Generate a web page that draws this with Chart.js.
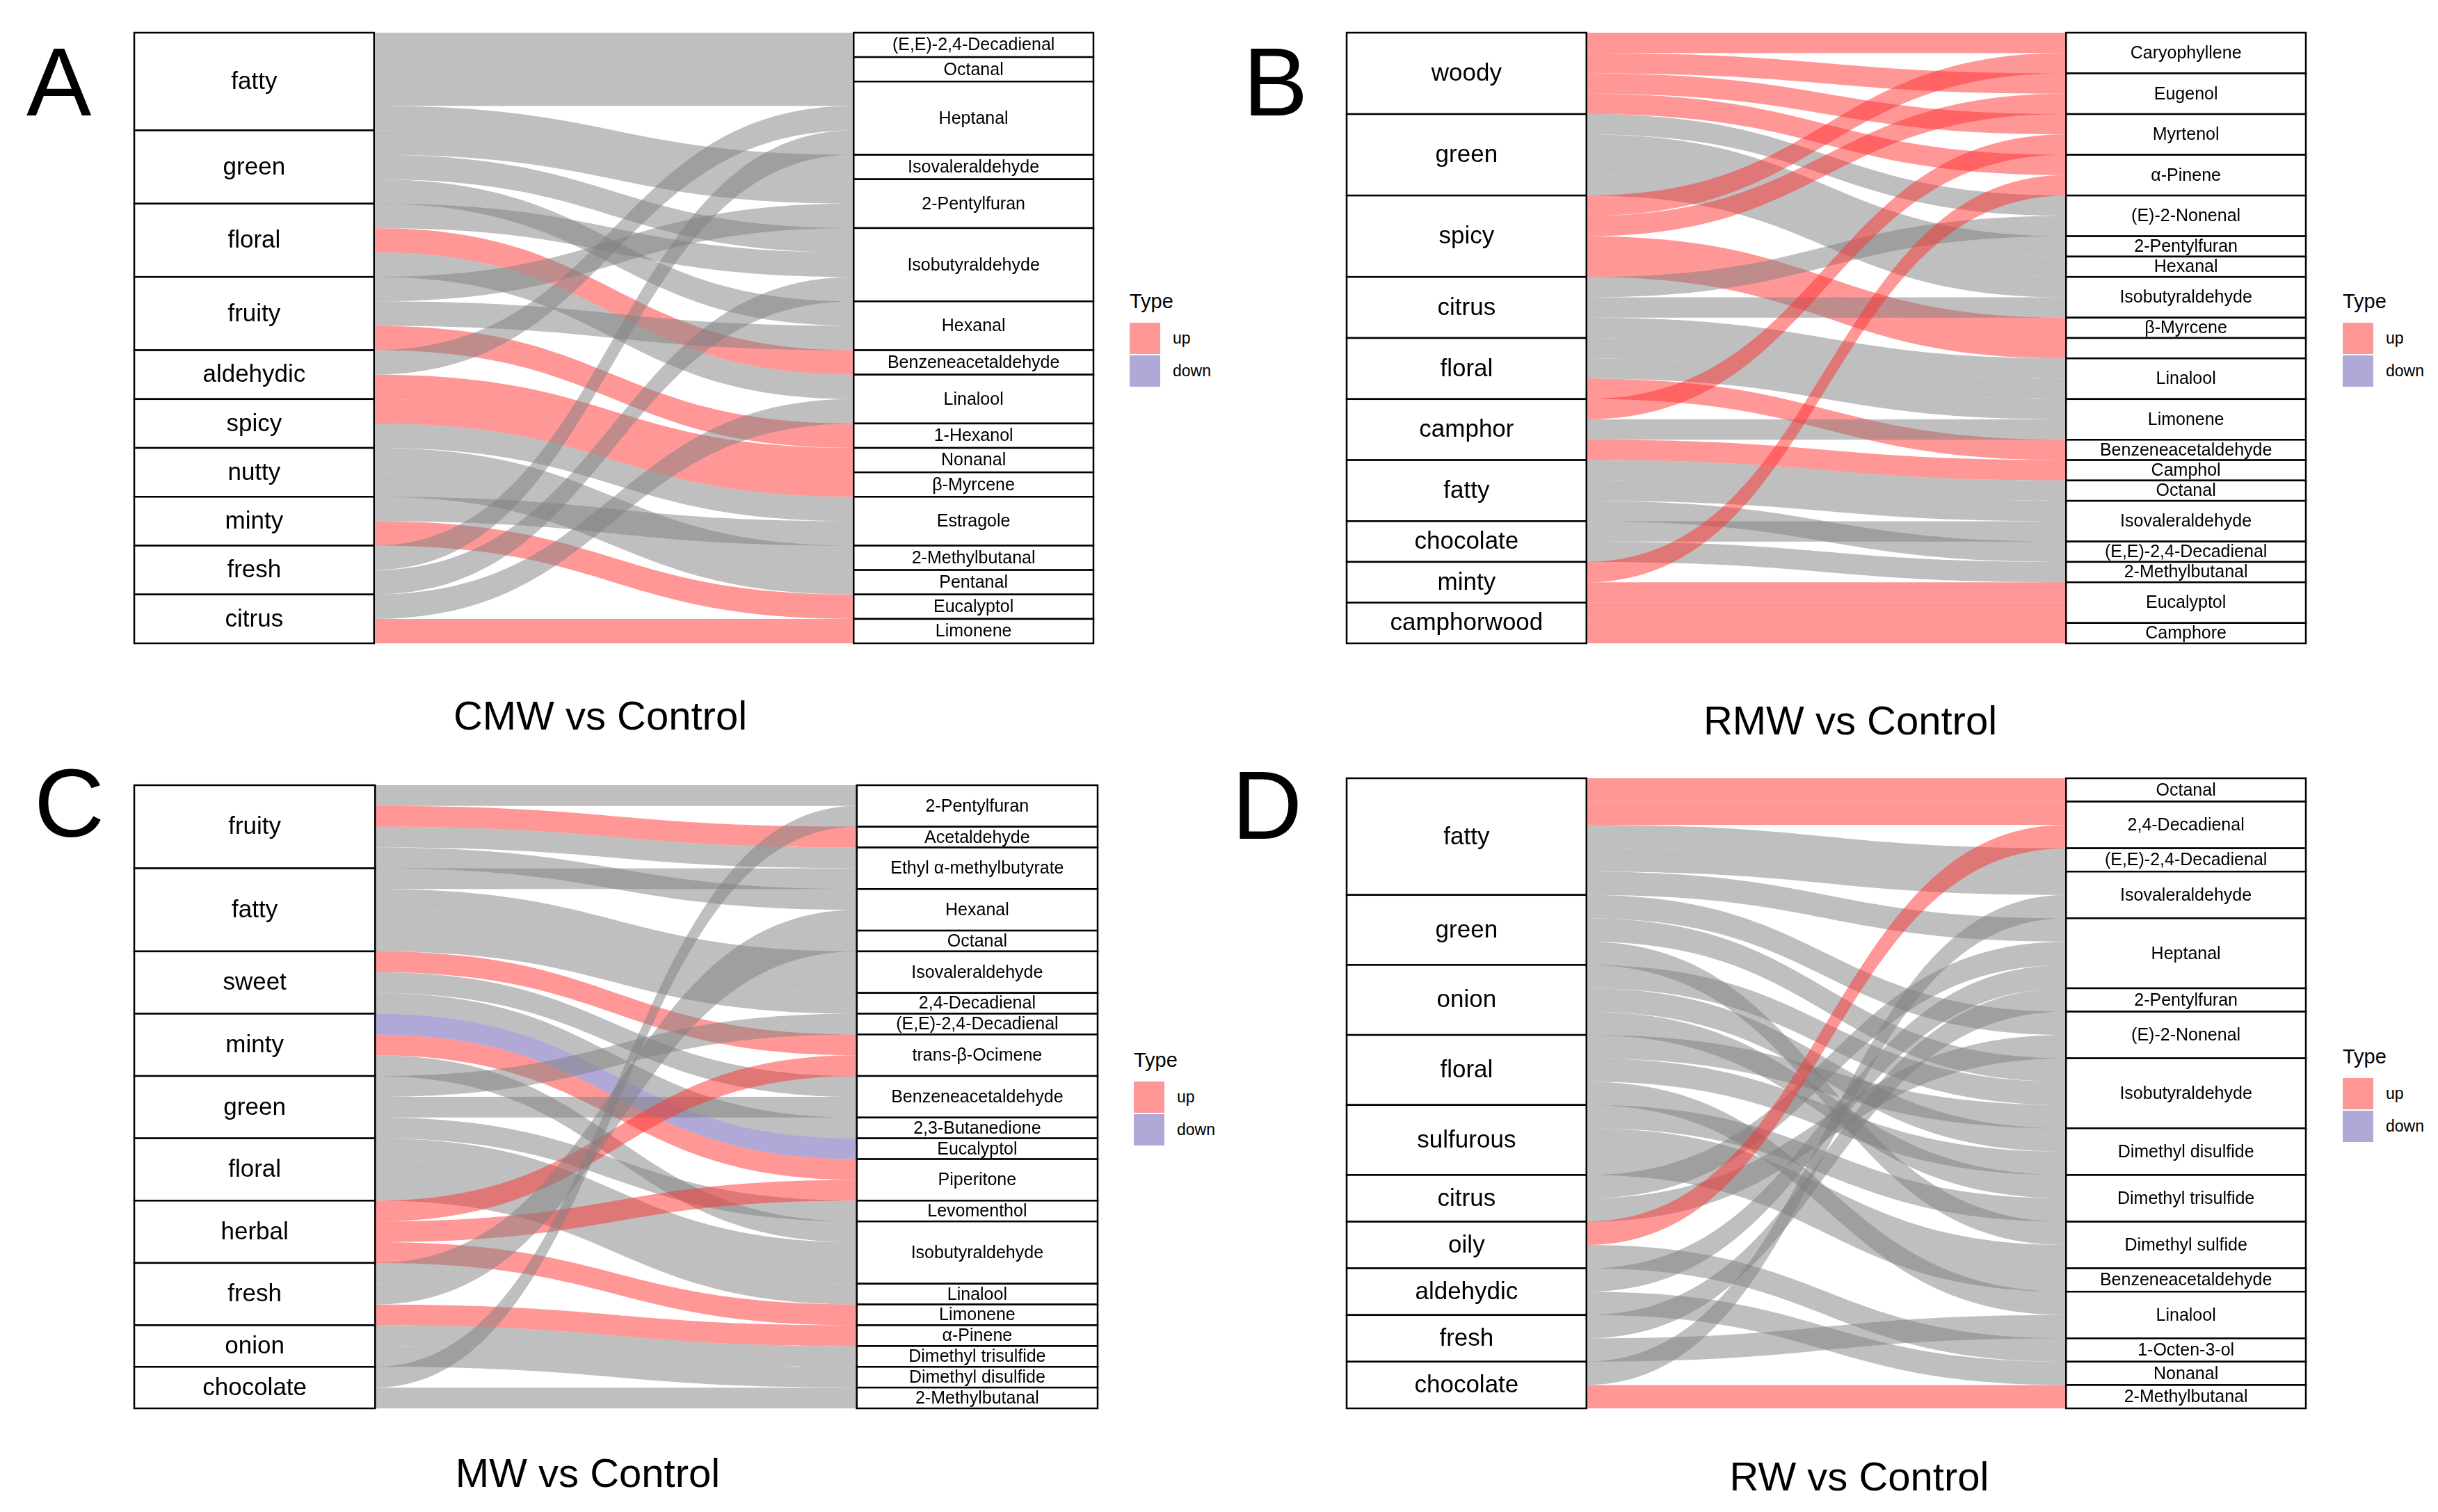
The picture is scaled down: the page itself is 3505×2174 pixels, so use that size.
<!DOCTYPE html>
<html>
<head>
<meta charset="utf-8">
<script src="https://cdn.jsdelivr.net/npm/chart.js@4.4.0/dist/chart.umd.min.js"></script>
<style>
  body { margin: 0; background: #fff; }
  #page { position: relative; width: 3505px; height: 2174px; background: #fff; overflow: hidden;
          font-family: "Liberation Sans", Arial, sans-serif; color: #000; }
  .panel { position: absolute; }
  .letter { position: absolute; font-size: 140px; line-height: 140px; }
  .title { position: absolute; font-size: 58px; line-height: 1; transform: translate(-50%, -50%); white-space: nowrap; }
  .ltitle { position: absolute; font-size: 29px; line-height: 1; transform: translateY(-50%); }
  .swatch { position: absolute; width: 44px; height: 45px; }
  .llabel { position: absolute; font-size: 23px; line-height: 1; transform: translateY(-50%); }
</style>
</head>
<body>
<div id="page">
  <div class="letter" style="left:38px;top:48px">A</div>
  <div class="letter" style="left:1787px;top:48px">B</div>
  <div class="letter" style="left:49px;top:1085px">C</div>
  <div class="letter" style="left:1771px;top:1088px">D</div>

  <div class="panel" style="left:189px;top:43px;width:1387px;height:886px"><canvas id="cA"></canvas></div>
  <div class="panel" style="left:1932px;top:43px;width:1387px;height:886px"><canvas id="cB"></canvas></div>
  <div class="panel" style="left:189px;top:1125px;width:1393px;height:904px"><canvas id="cC"></canvas></div>
  <div class="panel" style="left:1932px;top:1115px;width:1387px;height:914px"><canvas id="cD"></canvas></div>

  <div class="title" style="left:863px;top:1029px">CMW vs Control</div>
  <div class="title" style="left:2660px;top:1036px">RMW vs Control</div>
  <div class="title" style="left:845px;top:2118px">MW vs Control</div>
  <div class="title" style="left:2673px;top:2123px">RW vs Control</div>

  <div id="legends"></div>
</div>

<script>
// ---- Panel A: CMW vs Control ----
const aOdors = ['fatty', 'green', 'floral', 'fruity', 'aldehydic', 'spicy', 'nutty', 'minty', 'fresh', 'citrus'];
const aCompounds = ['(E,E)-2,4-Decadienal', 'Octanal', 'Heptanal', 'Isovaleraldehyde', '2-Pentylfuran',
  'Isobutyraldehyde', 'Hexanal', 'Benzeneacetaldehyde', 'Linalool', '1-Hexanol', 'Nonanal', 'β-Myrcene',
  'Estragole', '2-Methylbutanal', 'Pentanal', 'Eucalyptol', 'Limonene'];
const aTypes = [null, null, null, null, null, null, null, 'up', null, 'up', 'up', 'up', null, null, null, 'up', 'up'];
// for every odor: the compounds it links to (one unit each)
const aLinks = [[0, 1, 2, 3], [4, 5, 6], [5, 7, 8], [4, 6, 9], [2, 10], [11, 12], [13, 14], [12, 15], [2, 5], [8, 16]];

// ---- Panel B: RMW vs Control ----
const bOdors = ['woody', 'green', 'spicy', 'citrus', 'floral', 'camphor', 'fatty', 'chocolate', 'minty', 'camphorwood'];
const bCompounds = ['Caryophyllene', 'Eugenol', 'Myrtenol', 'α-Pinene', '(E)-2-Nonenal', '2-Pentylfuran', 'Hexanal',
  'Isobutyraldehyde', 'β-Myrcene', '', 'Linalool', 'Limonene', 'Benzeneacetaldehyde', 'Camphol', 'Octanal',
  'Isovaleraldehyde', '(E,E)-2,4-Decadienal', '2-Methylbutanal', 'Eucalyptol', 'Camphore'];
const bTypes = ['up', 'up', 'up', 'up', null, null, null, null, 'up', 'up', null, null, 'up', 'up', null, null, null, null, 'up', 'up'];
const bLinks = [[0, 1, 2, 3], [4, 5, 6, 7], [0, 1, 8, 9], [4, 7, 10], [10, 11, 12], [2, 11, 13], [14, 15, 16], [15, 17], [3, 18], [18, 19]];

// ---- Panel C: MW vs Control ----
const cOdors = ['fruity', 'fatty', 'sweet', 'minty', 'green', 'floral', 'herbal', 'fresh', 'onion', 'chocolate'];
const cCompounds = ['2-Pentylfuran', 'Acetaldehyde', 'Ethyl α-methylbutyrate', 'Hexanal', 'Octanal', 'Isovaleraldehyde',
  '2,4-Decadienal', '(E,E)-2,4-Decadienal', 'trans-β-Ocimene', 'Benzeneacetaldehyde', '2,3-Butanedione', 'Eucalyptol',
  'Piperitone', 'Levomenthol', 'Isobutyraldehyde', 'Linalool', 'Limonene', 'α-Pinene', 'Dimethyl trisulfide',
  'Dimethyl disulfide', '2-Methylbutanal'];
const cTypes = [null, 'up', null, null, null, null, null, null, 'up', null, null, 'down', 'up', null, null, null, 'up', 'up', null, null, null];
const cLinks = [[0, 1, 2, 3], [2, 5, 5, 6], [8, 9, 10], [11, 12, 14], [7, 9, 13], [14, 14, 15], [8, 12, 16], [3, 4, 17], [18, 19], [0, 20]];

// ---- Panel D: RW vs Control ----
const dOdors = ['fatty', 'green', 'onion', 'floral', 'sulfurous', 'citrus', 'oily', 'aldehydic', 'fresh', 'chocolate'];
const dCompounds = ['Octanal', '2,4-Decadienal', '(E,E)-2,4-Decadienal', 'Isovaleraldehyde', 'Heptanal', '2-Pentylfuran',
  '(E)-2-Nonenal', 'Isobutyraldehyde', 'Dimethyl disulfide', 'Dimethyl trisulfide', 'Dimethyl sulfide',
  'Benzeneacetaldehyde', 'Linalool', '1-Octen-3-ol', 'Nonanal', '2-Methylbutanal'];
const dTypes = ['up', 'up', null, null, null, null, null, null, null, null, null, null, null, null, null, 'up'];
const dLinks = [[0, 1, 2, 3, 4], [6, 7, 10], [7, 8, 9], [7, 8, 12], [9, 10, 11], [4, 6], [1, 13], [4, 14], [5, 12], [3, 15]];

const typeLabels = ['up', 'down'];
const COLORS = { up: 'rgba(255, 48, 48, 0.5)', down: 'rgba(97, 81, 173, 0.5)', none: 'rgba(127, 127, 127, 0.5)' };
const FONT = '"Liberation Sans", Arial, sans-serif';

// draws flows and strata boxes from the scales
const alluvialPlugin = {
  id: 'alluvial',
  beforeDatasetsDraw(chart, args, opts) {
    const { ctx, scales: { x, y } } = chart;
    const links = opts.links;
    const leftCounts = links.map(t => t.length);
    const rightCounts = opts.compounds.map((_, j) => links.reduce((n, t) => n + t.filter(v => v === j).length, 0));
    const cum = arr => arr.reduce((acc, v) => { acc.push(acc[acc.length - 1] + v); return acc; }, [0]);
    const leftStart = cum(leftCounts);
    const rightStart = cum(rightCounts);

    const flows = [];
    links.forEach((targets, i) => targets.forEach(j => flows.push({ from: i, to: j })));
    const lPos = leftStart.slice();
    [...flows].sort((a, b) => a.from - b.from || a.to - b.to).forEach(f => { f.l = lPos[f.from]++; });
    const rPos = rightStart.slice();
    [...flows].sort((a, b) => a.to - b.to || a.from - b.from).forEach(f => { f.r = rPos[f.to]++; });

    const xl = x.getPixelForValue(1), xr = x.getPixelForValue(3), xm = (xl + xr) / 2;
    ctx.save();
    flows.forEach(f => {
      ctx.fillStyle = COLORS[opts.types[f.to] || 'none'];
      const y0 = y.getPixelForValue(f.l), y1 = y.getPixelForValue(f.l + 1);
      const r0 = y.getPixelForValue(f.r), r1 = y.getPixelForValue(f.r + 1);
      ctx.beginPath();
      ctx.moveTo(xl, y0);
      ctx.bezierCurveTo(xm, y0, xm, r0, xr, r0);
      ctx.lineTo(xr, r1);
      ctx.bezierCurveTo(xm, r1, xm, y1, xl, y1);
      ctx.closePath();
      ctx.fill();
    });

    const drawStack = (labels, counts, starts, v0, v1, size) => {
      const px0 = x.getPixelForValue(v0), px1 = x.getPixelForValue(v1);
      ctx.font = size + 'px ' + FONT;
      ctx.textAlign = 'center';
      ctx.textBaseline = 'middle';
      labels.forEach((lab, i) => {
        const top = y.getPixelForValue(starts[i]), bot = y.getPixelForValue(starts[i] + counts[i]);
        ctx.fillStyle = '#fff';
        ctx.fillRect(px0, top, px1 - px0, bot - top);
        ctx.lineWidth = 2.5;
        ctx.strokeStyle = '#000';
        ctx.strokeRect(px0, top, px1 - px0, bot - top);
        ctx.fillStyle = '#000';
        ctx.fillText(lab, (px0 + px1) / 2, (top + bot) / 2 + 1);
      });
    };
    drawStack(opts.odors, leftCounts, leftStart, 0, 1, 35);
    drawStack(opts.compounds, rightCounts, rightStart, 3, 4, 25);
    ctx.restore();
  }
};

function makePanel(canvasId, odors, compounds, types, links) {
  const total = links.reduce((n, t) => n + t.length, 0);
  return new Chart(document.getElementById(canvasId), {
    type: 'scatter',
    data: { datasets: [] },
    options: {
      responsive: true,
      maintainAspectRatio: false,
      animation: false,
      events: [],
      layout: { padding: 4 },
      plugins: {
        legend: { display: false },
        tooltip: { enabled: false },
        alluvial: { odors, compounds, types, links }
      },
      scales: {
        x: { type: 'linear', min: 0, max: 4, display: false },
        y: { type: 'linear', min: 0, max: total, reverse: true, display: false }
      }
    },
    plugins: [alluvialPlugin]
  });
}

makePanel('cA', aOdors, aCompounds, aTypes, aLinks);
makePanel('cB', bOdors, bCompounds, bTypes, bLinks);
makePanel('cC', cOdors, cCompounds, cTypes, cLinks);
makePanel('cD', dOdors, dCompounds, dTypes, dLinks);

// legends (Type: up / down), placed beside each panel
const legendSpots = [[1624, 486], [3368, 486], [1630, 1577], [3368, 1572]];
const legendHost = document.getElementById('legends');
legendSpots.forEach(([lx, mid]) => {
  const t = document.createElement('div');
  t.className = 'ltitle';
  t.style.left = lx + 'px';
  t.style.top = (mid - 53) + 'px';
  t.textContent = 'Type';
  legendHost.appendChild(t);
  typeLabels.forEach((lab, k) => {
    const cy = mid + k * 47;
    const sw = document.createElement('div');
    sw.className = 'swatch';
    sw.style.left = lx + 'px';
    sw.style.top = (cy - 22) + 'px';
    sw.style.background = COLORS[lab];
    legendHost.appendChild(sw);
    const tx = document.createElement('div');
    tx.className = 'llabel';
    tx.style.left = (lx + 62) + 'px';
    tx.style.top = cy + 'px';
    tx.textContent = lab;
    legendHost.appendChild(tx);
  });
});
</script>
</body>
</html>
